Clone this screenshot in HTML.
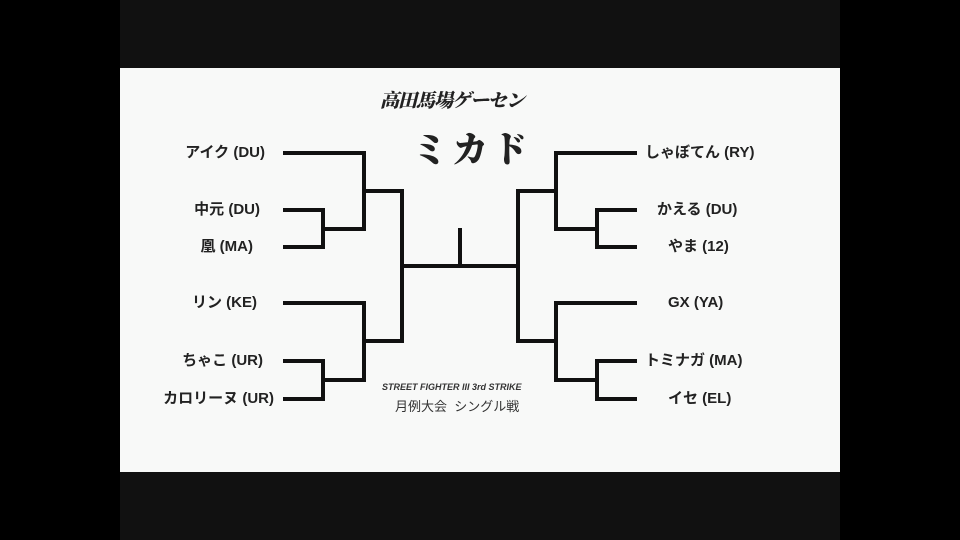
<!DOCTYPE html>
<html><head><meta charset="utf-8"><style>
body{margin:0;width:960px;height:540px;background:#000;position:relative;overflow:hidden;font-family:"Liberation Sans","Noto Sans CJK JP",sans-serif}
.top{position:absolute;left:120px;top:0;width:720px;height:68px;background:#111}
.bot{position:absolute;left:120px;top:472px;width:720px;height:68px;background:#111}
.panel{position:absolute;left:120px;top:68px;width:720px;height:404px;background:#f8f9f8}
.l{position:absolute;font-size:15px;font-weight:bold;color:#222;white-space:nowrap;line-height:16px}
</style></head><body>
<div class="top"></div><div class="panel"></div><div class="bot"></div>
<svg width="960" height="540" style="position:absolute;left:0;top:0" fill="none" stroke="#111" stroke-width="4">
<path d="M283 153H364V229H323M283 210H323V247H283M364 191H402V341H364M283 303H364V380H323M283 361H323V399H283M402 266H518M460 266V228"/>
<path d="M637 153H556V229H597M637 210H597V247H637M556 191H518V341H556M637 303H556V380H597M637 361H597V399H637"/>
</svg>
<div class="l" style="right:695px;top:145px">アイク (DU)</div>
<div class="l" style="right:700px;top:202px">中元 (DU)</div>
<div class="l" style="right:707px;top:239px">凰 (MA)</div>
<div class="l" style="right:703px;top:295px">リン (KE)</div>
<div class="l" style="right:697px;top:353px">ちゃこ (UR)</div>
<div class="l" style="right:686px;top:391px">カロリーヌ (UR)</div>
<div class="l" style="left:645px;top:145px">しゃぼてん (RY)</div>
<div class="l" style="left:657px;top:202px">かえる (DU)</div>
<div class="l" style="left:668px;top:239px">やま (12)</div>
<div class="l" style="left:668px;top:295px">GX (YA)</div>
<div class="l" style="left:645px;top:353px">トミナガ (MA)</div>
<div class="l" style="left:668px;top:391px">イセ (EL)</div>
<div class="l" style="left:380px;top:92px;font-size:19px;font-family:'Noto Serif CJK SC',serif;font-style:italic;font-weight:900;letter-spacing:-1px">高田馬場ゲーセン</div>
<div class="l" style="left:412px;top:128px;font-size:36px;line-height:40px;font-family:'Noto Serif CJK SC',serif;font-weight:900;letter-spacing:4px">ミカド</div>
<div class="l" style="left:382px;top:382px;font-size:9px;line-height:10px;font-style:italic;font-weight:900;color:#333">STREET FIGHTER III 3rd STRIKE</div>
<div class="l" style="left:395px;top:399px;font-size:13px;font-weight:normal;color:#333">月例大会&nbsp; シングル戦</div>
</body></html>
